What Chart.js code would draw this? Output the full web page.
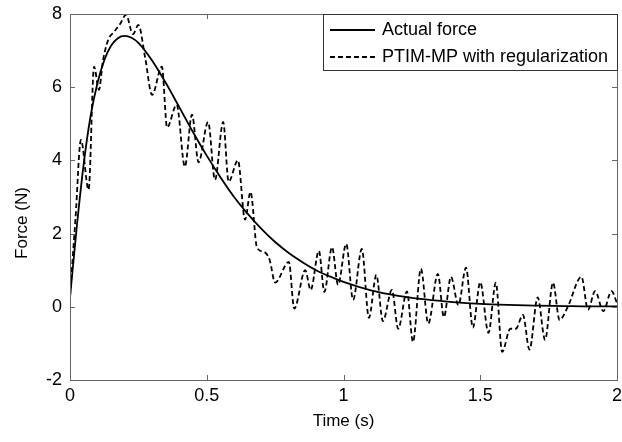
<!DOCTYPE html>
<html>
<head>
<meta charset="utf-8">
<script src="https://cdn.jsdelivr.net/npm/chart.js@4/dist/chart.umd.min.js"></script>
<style>
html,body{margin:0;padding:0;background:#fff;}
#wrap{width:622px;height:442px;position:relative;}
</style>
</head>
<body>
<div id="wrap"><canvas id="c" width="622" height="442"></canvas></div>
<script>
// ---- data ----
const actualTime = [0,0.025,0.05,0.075,0.1,0.125,0.15,0.175,0.2,0.225,0.25,0.3,0.35,0.4,0.45,0.5,0.55,0.6,0.65,0.7,0.75,0.8,0.85,0.9,0.95,1.0,1.1,1.2,1.3,1.4,1.5,1.6,1.7,1.8,1.9,2.0];
const actualForce = [0.25,2.2,3.9,5.2,6.1,6.73,7.13,7.34,7.40,7.35,7.21,6.73,6.12,5.45,4.77,4.13,3.54,3.00,2.54,2.13,1.77,1.47,1.22,1.00,0.83,0.68,0.45,0.30,0.20,0.13,0.08,0.05,0.03,0.02,0.01,0.01];

const ptimTime = [0,0.02,0.04,0.068,0.088,0.106,0.12,0.14,0.16,0.185,0.205,0.23,0.25,0.275,0.30,0.336,0.355,0.39,0.42,0.446,0.47,0.505,0.53,0.56,0.58,0.614,0.64,0.66,0.684,0.71,0.73,0.75,0.80,0.82,0.86,0.88,0.91,0.93,0.958,0.98,1.01,1.035,1.067,1.093,1.12,1.144,1.177,1.20,1.232,1.254,1.283,1.31,1.345,1.367,1.393,1.42,1.448,1.473,1.50,1.53,1.557,1.58,1.61,1.63,1.656,1.68,1.71,1.737,1.766,1.79,1.82,1.87,1.894,1.92,1.95,1.98,2.0];
const ptimForce = [0.3,2.4,4.56,3.2,6.56,5.93,6.7,7.3,7.5,7.75,7.98,7.45,7.7,6.8,5.79,6.56,4.9,5.52,3.83,5.25,3.95,5.05,3.47,5.05,3.42,4.0,2.38,3.14,1.61,1.5,1.28,0.66,1.23,-0.05,1.0,0.46,1.53,0.41,1.63,0.6,1.72,0.19,1.58,-0.3,0.87,-0.39,0.46,-0.6,0.42,-0.96,1.04,-0.46,0.9,-0.28,0.82,0.05,1.07,-0.57,0.67,-0.71,0.66,-1.23,-0.6,-0.6,-0.22,-1.17,0.26,-0.9,0.66,-0.36,0.0,0.82,-0.08,0.43,-0.12,0.43,0.1];

const xTicks = [0,0.5,1,1.5,2];
const yTicks = [-2,0,2,4,6,8];
const seriesLabels = ['Actual force','PTIM-MP with regularization'];
const xTitle = 'Time (s)';
const yTitle = 'Force (N)';

const FONT = '"Liberation Sans", Arial, Helvetica, sans-serif';

function pts(t, v){ return t.map((x,i)=>({x:x,y:v[i]})); }

const framePlugin = {
  id:'frame',
  afterDatasetsDraw(chart){
    const ctx = chart.ctx, a = chart.chartArea;
    const xs = chart.scales.x, ys = chart.scales.y;
    ctx.save();
    ctx.strokeStyle = '#666';
    ctx.lineWidth = 1;
    ctx.strokeRect(Math.round(a.left)+0.5, Math.round(a.top)+0.5, Math.round(a.right-a.left), Math.round(a.bottom-a.top));
    ctx.beginPath();
    const tl = 5;
    xTicks.forEach(v=>{
      const px = Math.round(xs.getPixelForValue(v))+0.5;
      ctx.moveTo(px, a.bottom); ctx.lineTo(px, a.bottom - tl);
      ctx.moveTo(px, a.top); ctx.lineTo(px, a.top + tl);
    });
    yTicks.forEach(v=>{
      const py = Math.round(ys.getPixelForValue(v))+0.5;
      ctx.moveTo(a.left, py); ctx.lineTo(a.left + tl, py);
      ctx.moveTo(a.right, py); ctx.lineTo(a.right - tl, py);
    });
    ctx.stroke();

    // y axis title
    ctx.save();
    ctx.translate(22, 223);
    ctx.rotate(-Math.PI/2);
    ctx.font = '17px ' + FONT;
    ctx.fillStyle = '#000';
    ctx.textAlign = 'center';
    ctx.textBaseline = 'middle';
    ctx.fillText(yTitle, 0, 0);
    ctx.restore();

    // legend
    const w = 294, h = 56;
    const lx = Math.round(a.right) - w, ly = Math.round(a.top);
    ctx.fillStyle = '#fff';
    ctx.fillRect(lx+0.5, ly+0.5, w, h);
    ctx.strokeStyle = '#333';
    ctx.strokeRect(lx+0.5, ly+0.5, w, h);
    ctx.font = '18px ' + FONT;
    ctx.fillStyle = '#000';
    ctx.textBaseline = 'middle';
    ctx.textAlign = 'left';
    const rows = [ly+16, ly+43];
    chart.data.datasets.forEach((ds,i)=>{
      ctx.beginPath();
      ctx.strokeStyle = '#000';
      ctx.lineWidth = 1.8;
      ctx.setLineDash(ds.borderDash || []);
      ctx.moveTo(lx+7, rows[i]); ctx.lineTo(lx+52, rows[i]);
      ctx.stroke();
      ctx.setLineDash([]);
      ctx.fillText(ds.label, lx+59, rows[i]);
    });
    ctx.restore();
  }
};

new Chart(document.getElementById('c'), {
  type:'scatter',
  data:{
    datasets:[
      {label:seriesLabels[0], data:pts(actualTime, actualForce), showLine:true, borderColor:'#000', borderWidth:1.8, pointRadius:0, cubicInterpolationMode:'monotone', fill:false},
      {label:seriesLabels[1], data:pts(ptimTime, ptimForce), showLine:true, borderColor:'#000', borderWidth:1.8, borderDash:[5,3], pointRadius:0, cubicInterpolationMode:'monotone', fill:false}
    ]
  },
  options:{
    responsive:false,
    animation:false,
    layout:{padding:{left:0, right:5, top:14, bottom:0}},
    plugins:{legend:{display:false}, tooltip:{enabled:false}},
    scales:{
      x:{
        type:'linear', min:0, max:2,
        grid:{display:false, drawTicks:false},
        border:{display:false},
        afterBuildTicks(s){ s.ticks = xTicks.map(v=>({value:v})); },
        afterFit(s){ s.height = 62; s.paddingLeft = 0; s.paddingRight = 0; },
        ticks:{color:'#000', font:{family:FONT, size:18}, padding:5, maxRotation:0, autoSkip:false, callback:v=>String(v)},
        title:{display:true, text:xTitle, color:'#000', font:{family:FONT, size:17}, padding:{top:0,bottom:10}}
      },
      y:{
        type:'linear', min:-2, max:8,
        grid:{display:false, drawTicks:false},
        border:{display:false},
        afterBuildTicks(s){ s.ticks = yTicks.map(v=>({value:v})); },
        afterFit(s){ s.width = 70; s.paddingTop = 0; s.paddingBottom = 0; },
        ticks:{color:'#000', font:{family:FONT, size:18}, padding:8, autoSkip:false, callback:v=>String(v)},
        title:{display:false}
      }
    }
  },
  plugins:[framePlugin]
});
</script>
</body>
</html>
